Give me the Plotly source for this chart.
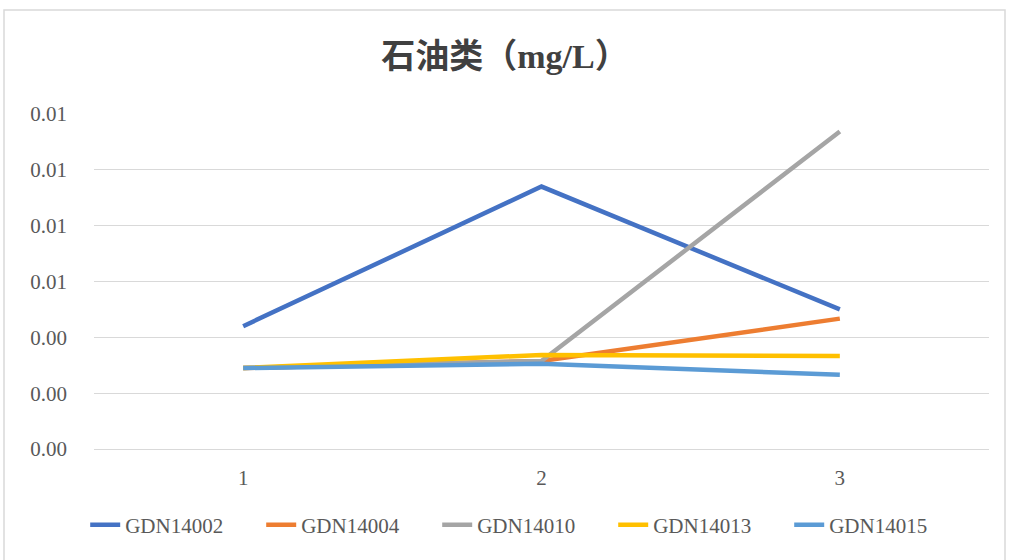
import plotly.graph_objects as go

categories = [1, 2, 3]
series_names = ["GDN14002", "GDN14004", "GDN14010", "GDN14013", "GDN14015"]
gdn14002 = [0.0044, 0.0094, 0.0050]
gdn14004 = [0.0029, 0.00315, 0.00467]
gdn14010 = [0.0029, 0.00315, 0.01137]
gdn14013 = [0.0029, 0.00337, 0.00333]
gdn14015 = [0.0029, 0.00305, 0.00266]
y_ticks = [0, 0.002, 0.004, 0.006, 0.008, 0.010, 0.012]

colors = ["#4472C4", "#ED7D31", "#A5A5A5", "#FFC000", "#5B9BD5"]
values = [gdn14002, gdn14004, gdn14010, gdn14013, gdn14015]

W, H = 1010, 560
ml, mr, mt, mb = 94, 21, 114, 111

fig = go.Figure()
for name, vals, c in zip(series_names, values, colors):
    fig.add_trace(go.Scatter(
        x=categories, y=vals, name=name, mode="lines",
        line=dict(color=c, width=4.5),
    ))

pw = W - ml - mr
ph = H - mt - mb

def px_x(p):
    return (p - ml) / pw

def px_y(p):
    return (H - mb - p) / ph

fig.add_shape(type="rect", xref="paper", yref="paper",
              x0=px_x(4), x1=px_x(1005), y0=px_y(565), y1=px_y(10),
              line=dict(color="#D9D9D9", width=1.5), fillcolor="rgba(0,0,0,0)",
              layer="below")

serif = "Liberation Serif"
tick_font = dict(family=serif, size=21, color="#595959")

fig.update_layout(
    width=W, height=H,
    margin=dict(l=ml, r=mr, t=mt, b=mb, autoexpand=False),
    paper_bgcolor="white", plot_bgcolor="white",
    title=dict(text="<b>石油类（mg/L）</b>", x=0.5, xref="container", xanchor="center",
               y=1 - 56 / H, yref="container", yanchor="middle",
               font=dict(family="Liberation Serif, Noto Sans CJK SC", size=34, color="#404040")),
    xaxis=dict(range=[0.5, 3.5], tickvals=categories, ticktext=[str(c) for c in categories],
               showgrid=False, zeroline=False, showline=False, ticks="",
               tickfont=tick_font, ticklabelstandoff=14),
    yaxis=dict(range=[0, 0.012], tickvals=y_ticks, tickformat=".2f",
               showgrid=True, gridcolor="#D9D9D9", gridwidth=1,
               zeroline=True, zerolinecolor="#D9D9D9", zerolinewidth=1,
               showline=False, ticks="", tickfont=tick_font, ticklabelstandoff=26),
    legend=dict(orientation="h", xref="container", yref="container",
                x=0.52, xanchor="center", y=1 - 525 / H, yanchor="middle",
                font=tick_font, entrywidth=131, traceorder="normal",
                bgcolor="rgba(0,0,0,0)"),
    showlegend=True,
)

fig.write_html("out.html", config={"displayModeBar": False},
               post_script="document.body.style.margin='0';")
